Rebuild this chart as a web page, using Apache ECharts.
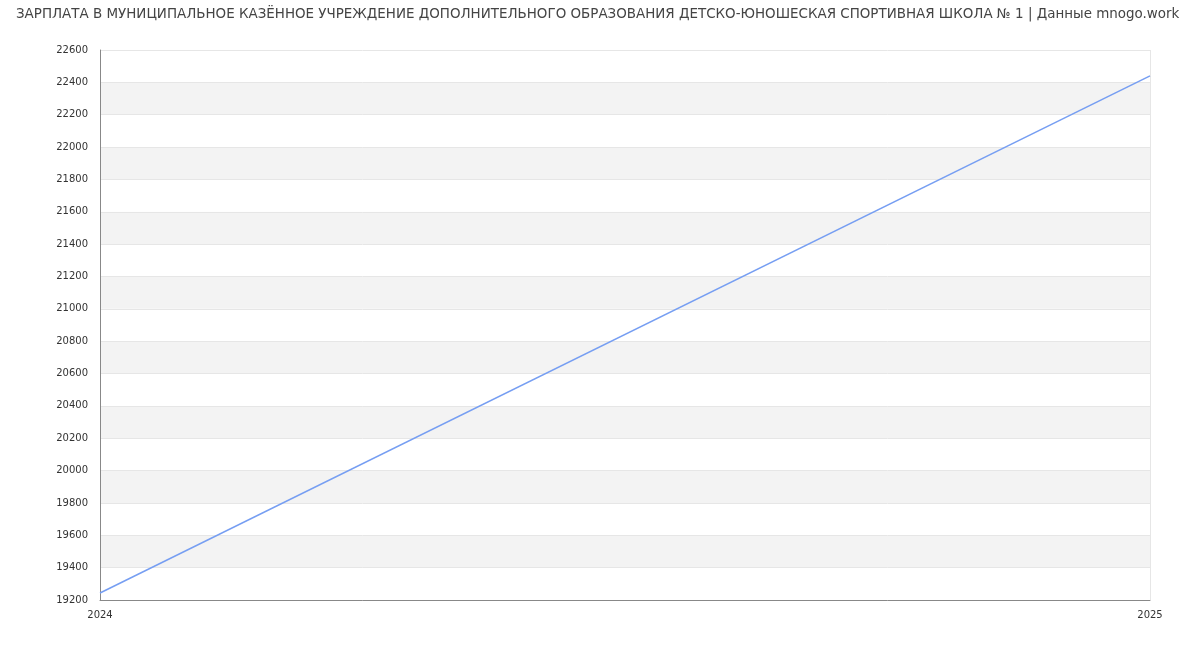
<!DOCTYPE html>
<html><head><meta charset="utf-8">
<script src="https://cdn.jsdelivr.net/npm/echarts@6/dist/echarts.min.js"></script>
<style>html,body{margin:0;padding:0;background:#fff}#c{width:1200px;height:650px}</style>
</head><body><div id="c"></div>
<script>
const titleText = 'ЗАРПЛАТА В МУНИЦИПАЛЬНОЕ КАЗЁННОЕ УЧРЕЖДЕНИЕ ДОПОЛНИТЕЛЬНОГО ОБРАЗОВАНИЯ ДЕТСКО-ЮНОШЕСКАЯ СПОРТИВНАЯ ШКОЛА № 1 | Данные mnogo.work';
const years = ['2024', '2025'];
const salary = [19243, 22440];
const yMin = 19200, yMax = 22600, yStep = 200;

const chart = echarts.init(document.getElementById('c'));
chart.setOption({
  animation: false,
  title: {
    text: titleText, left: 11, top: 3,
    textStyle: {fontFamily: 'DejaVu Sans', fontSize: 13.45, fontWeight: 'normal', color: '#444'}
  },
  grid: {left: 100, right: 50, top: 50, bottom: 50},
  xAxis: {
    type: 'category', data: years, boundaryGap: false,
    axisLine: {lineStyle: {color: '#888'}},
    axisTick: {show: false},
    axisLabel: {color: '#333', fontSize: 10, fontFamily: 'DejaVu Sans', margin: 10,
      formatter: v => v},
    splitLine: {show: true, lineStyle: {color: '#e6e6e6'}}
  },
  yAxis: {
    type: 'value', min: yMin, max: yMax, interval: yStep,
    axisLine: {show: true, lineStyle: {color: '#888'}},
    axisTick: {show: false},
    axisLabel: {color: '#333', fontSize: 10, fontFamily: 'DejaVu Sans', margin: 12,
      formatter: v => String(v)},
    splitLine: {show: true, lineStyle: {color: '#e6e6e6'}},
    splitArea: {show: true, areaStyle: {color: ['#ffffff', '#f3f3f3']}}
  },
  series: [{
    type: 'line', data: salary, showSymbol: false, symbol: 'none',
    lineStyle: {color: '#769ef2', width: 1.5}
  }]
});
</script></body></html>
